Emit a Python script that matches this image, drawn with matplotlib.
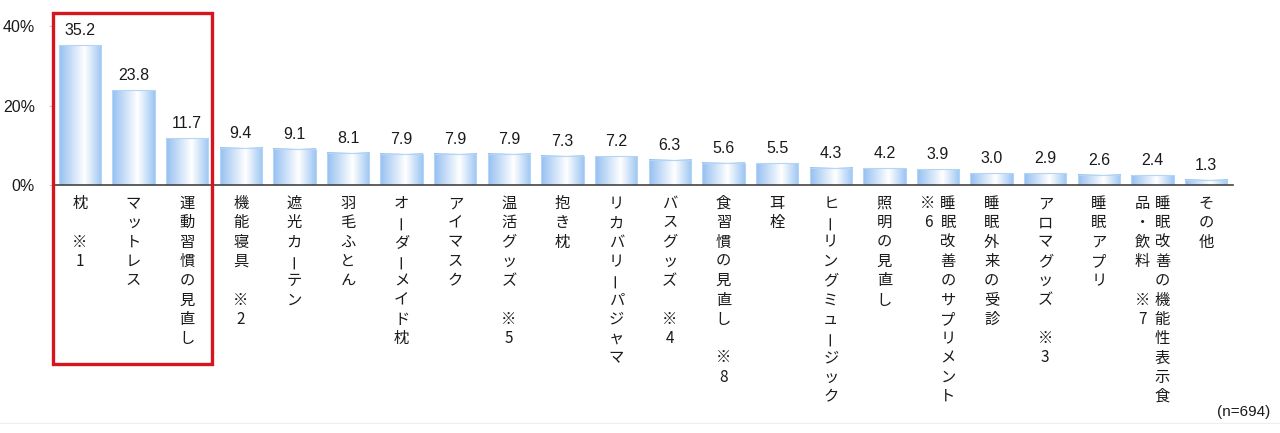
import numpy as np
import matplotlib.pyplot as plt
import matplotlib.patches as patches
from matplotlib.colors import LinearSegmentedColormap

plt.rcParams['font.family'] = ['Liberation Sans', 'Noto Sans CJK JP', 'DejaVu Sans']

# data
categories = ['枕 ※1', 'マットレス', '運動習慣の見直し', '機能寝具 ※2', '遮光カーテン',
              '羽毛ふとん', 'オーダーメイド枕', 'アイマスク', '温活グッズ ※5', '抱き枕',
              'リカバリーパジャマ', 'バスグッズ ※4', '食習慣の見直し ※8', '耳栓',
              'ヒーリングミュージック', '照明の見直し', '睡眠改善のサプリメント ※6',
              '睡眠外来の受診', 'アロマグッズ ※3', '睡眠アプリ',
              '睡眠改善の機能性表示食品・飲料 ※7', 'その他']
values = [35.2, 23.8, 11.7, 9.4, 9.1, 8.1, 7.9, 7.9, 7.9, 7.3, 7.2, 6.3, 5.6, 5.5,
          4.3, 4.2, 3.9, 3.0, 2.9, 2.6, 2.4, 1.3]
yticks = [0, 20, 40]
note = '(n=694)'

fig = plt.figure(figsize=(12.8, 4.33), dpi=100)
ax = fig.add_axes([53 / 1280, 1 - 185 / 433, 1180 / 1280, 159 / 433])

# cylinder-like gradient for the bars
cmap = LinearSegmentedColormap.from_list(
    'bar', [(0, '#96c0f1'), (0.6, '#ffffff'), (1, '#9ec6f3')])
grad = np.linspace(0, 1, 64).reshape(1, -1)
w = 0.79
x = np.arange(len(values))
for xi, v in zip(x, values):
    ax.imshow(grad, cmap=cmap, aspect='auto', interpolation='bicubic',
              extent=(xi - w / 2, xi + w / 2, 0, v), zorder=2)
ax.bar(x, values, width=w, fill=False, edgecolor='#b5d5f6', linewidth=0.8, zorder=3)

for xi, v in zip(x, values):
    ax.annotate(f'{v:.1f}', xy=(xi, v), xytext=(0, 7), textcoords='offset pixels',
                ha='center', va='bottom', fontsize=11.5, color='#1a1a1a')

# vertical Japanese labels (columns run right to left, max 11 chars each)
pitch = 19.3
for xi, lab in zip(x, categories):
    cols = []
    s = lab
    while s:
        cols.append(s[:11])
        s = s[11:].lstrip(' ')
    n = len(cols)
    for ci, col in enumerate(cols):
        dx = (n - 1) * 10 - ci * 20
        for k, ch in enumerate(col):
            if ch == ' ':
                continue
            rot = 90 if ch == 'ー' else 0
            ax.annotate(ch, xy=(xi, 0), xytext=(dx, -18.5 - k * pitch),
                        textcoords='offset pixels', ha='center', va='center',
                        fontsize=11, rotation=rot, color='#1a1a1a',
                        family=['Noto Sans CJK JP', 'DejaVu Sans'],
                        annotation_clip=False)

ax.set_xlim(-0.5, len(values) - 0.5)
ax.set_ylim(0, 40)
ax.set_yticks(yticks)
ax.set_yticklabels([f'{t}%' for t in yticks], fontsize=11.5, color='#1a1a1a')
ax.set_xticks([])
ax.tick_params(axis='y', length=3, color='#cccccc', pad=10)
for sp in ['top', 'right', 'left']:
    ax.spines[sp].set_visible(False)
ax.spines['bottom'].set_color('#444444')
ax.spines['bottom'].set_linewidth(1.2)
ax.spines['bottom'].set_zorder(4)

# highlight box around the top three
fig.patches.append(patches.Rectangle((53 / 1280, 1 - 364 / 433), 159 / 1280, 351 / 433,
                                     transform=fig.transFigure, fill=False,
                                     edgecolor='#d7151e', linewidth=2.4))

fig.text(1270 / 1280, 1 - 412 / 433, note, ha='right', va='center', fontsize=11,
         color='#1a1a1a')
fig.add_artist(plt.Line2D([0, 1], [1 - 423 / 433] * 2, color='#eeeeee', linewidth=0.8))

fig.savefig('out.png', dpi=100)
